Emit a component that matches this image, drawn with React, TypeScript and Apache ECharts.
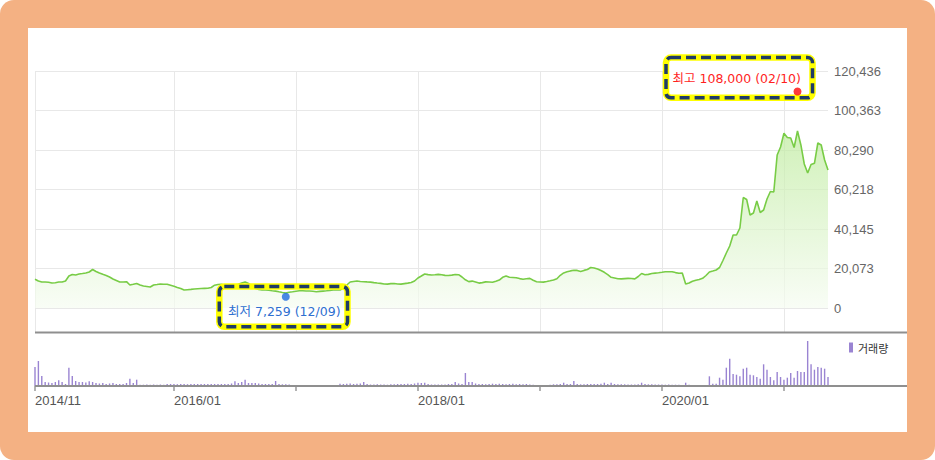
import React, { useEffect, useRef } from "react";
import * as echarts from "echarts";

// ---------- categories (three sample dates per month) ----------
const firstDate = "2014/11/11";
const lastDate = "2021/05/11";
const sampleDays = ["01", "11", "21"];
function buildCategories(): string[] {
  const out: string[] = [];
  for (let y = 2014; y <= 2021; y++) {
    for (let m = 1; m <= 12; m++) {
      const mm = m < 10 ? "0" + m : "" + m;
      for (const d of sampleDays) out.push(`${y}/${mm}/${d}`);
    }
  }
  return out.slice(out.indexOf(firstDate), out.indexOf(lastDate) + 1);
}
const categories = buildCategories();

// ---------- price (close) ----------
const price2014 = [14600, 13700, 13200, 13200, 13060];
const price2015 = [12700, 12860, 13200, 13200, 13720, 16260, 17020, 16770, 17280, 17530, 17790, 18300, 19570, 18550, 17790, 17130, 16520, 15750, 14740, 13980, 13210, 13210, 13370, 11690, 12040, 12450, 11690, 11180, 10930, 10670, 11690, 11940, 12200, 12100, 12040, 11540];
const price2016 = [11030, 10420, 9910, 9150, 9300, 9450, 9660, 9810, 9910, 9960, 10010, 10420, 11590, 11940, 12040, 11690, 11380, 11430, 11690, 12040, 12700, 13210, 12450, 11080, 10060, 9400, 9150, 9150, 9000, 8790, 8590, 8230, 7880, 7620, 8030, 8280];
const price2017 = [8540, 8740, 8740, 8640, 8640, 8490, 8280, 8440, 8590, 8740, 8940, 9150, 9150, 9150, 10160, 11690, 13210, 13470, 13720, 13470, 13370, 13260, 13160, 12910, 12700, 12500, 12200, 12150, 12400, 12450, 12200, 12150, 12400, 12650, 12960, 13720];
const price2018 = [15250, 16260, 17280, 16970, 16770, 16870, 17080, 16920, 16570, 16520, 16720, 17020, 16920, 15750, 14330, 13420, 13670, 13210, 12650, 12910, 13260, 13210, 13060, 13570, 14180, 15600, 16260, 15600, 15500, 15400, 14940, 14640, 14840, 15040, 14080, 13370];
const price2019 = [13210, 13160, 13470, 13820, 14230, 14890, 16620, 17840, 18400, 18850, 19160, 19110, 18600, 19110, 19570, 20580, 20330, 19820, 19060, 18140, 16970, 15600, 15250, 14890, 14790, 14940, 15040, 14990, 14790, 16010, 17530, 16920, 17080, 17530, 17740, 17890];
const price2020 = [18140, 18400, 18450, 18450, 17990, 17630, 17790, 12200, 12700, 13620, 14130, 14480, 15090, 16520, 18300, 18800, 19310, 20580, 24140, 27950, 31510, 37100, 37100, 40660, 56160, 55140, 47260, 48280, 54380, 48530, 49800, 55390, 59210, 58950, 77750, 81820];
const price2021 = [88780, 86650, 86390, 81570, 89950, 82840, 73180, 68610, 72930, 73540, 83850, 82840, 75210, 70130];
const prices = [...price2014, ...price2015, ...price2016, ...price2017, ...price2018, ...price2019, ...price2020, ...price2021];

// ---------- volume ----------
const vol2014 = [190, 250, 100, 40, 35];
const vol2015 = [30, 40, 57, 40, 20, 183, 100, 50, 40, 40, 35, 47, 40, 30, 25, 30, 20, 25, 30, 20, 20, 20, 30, 73, 30, 63, 13, 13, 15, 13, 15, 13, 15, 13, 20, 20];
const vol2016 = [20, 18, 20, 20, 18, 20, 20, 20, 20, 20, 20, 20, 20, 20, 20, 20, 20, 25, 47, 30, 40, 63, 30, 30, 30, 25, 20, 20, 20, 20, 50, 20, 17, 17, 15, 10];
const vol2017 = [10, 10, 10, 7, 10, 7, 10, 7, 10, 7, 0, 5, 5, 23, 20, 23, 25, 20, 23, 25, 40, 20, 15, 15, 17, 15, 15, 13, 17, 17, 20, 20, 20, 23, 20, 25];
const vol2018 = [33, 30, 33, 20, 15, 15, 15, 15, 15, 20, 20, 40, 25, 20, 130, 40, 40, 25, 20, 20, 17, 20, 23, 20, 23, 20, 17, 20, 23, 17, 20, 17, 20, 15, 13, 7];
const vol2019 = [7, 10, 7, 13, 17, 17, 20, 33, 20, 20, 50, 20, 17, 17, 20, 20, 20, 20, 23, 33, 20, 33, 20, 17, 17, 17, 15, 15, 15, 17, 33, 20, 17, 17, 15, 15];
const vol2020 = [15, 13, 15, 13, 13, 13, 10, 33, 13, 10, 10, 10, 10, 10, 97, 23, 23, 83, 63, 183, 273, 120, 113, 97, 173, 183, 113, 107, 90, 73, 217, 163, 90, 57, 140, 90];
const vol2021 = [63, 83, 130, 83, 150, 140, 140, 450, 217, 163, 190, 183, 173, 90];
const volumes = [...vol2014, ...vol2015, ...vol2016, ...vol2017, ...vol2018, ...vol2019, ...vol2020, ...vol2021];

// ---------- axes ----------
const yTickLabels = ["0", "20,073", "40,145", "60,218", "80,290", "100,363", "120,436"];
const yMax = 120436;
const volMax = 530;
const xLabelMap: Record<string, string> = {
  "2014/11/11": "2014/11",
  "2016/01/01": "2016/01",
  "2018/01/01": "2018/01",
  "2020/01/01": "2020/01",
};
const yearLines = ["2014/11/11", "2016/01/01", "2017/01/01", "2018/01/01", "2019/01/01", "2020/01/01", "2021/01/01"];

// ---------- extremes ----------
const highPoint = { date: "2021/02/11", value: 108000, text: "최고 108,000 (02/10)" };
const lowPoint = { date: "2016/12/01", value: 7259, text: "최저 7,259 (12/09)" };

const numFont = '"Liberation Sans", Arial, sans-serif';
const krFont = '"Noto Sans CJK KR", "Noto Sans", sans-serif';
const annFont = '"DejaVu Sans", "Noto Sans CJK KR", sans-serif';

function annotationBox(x: number, y: number, w: number, h: number, text: string, color: string, tx: number, ty: number) {
  return [
    { type: "rect", z: 1, shape: { x, y, width: w, height: h, r: 5 }, style: { fill: "#ffffff", stroke: null } },
    { type: "rect", z: 20, shape: { x, y, width: w, height: h, r: 5 }, style: { fill: null, stroke: "#ffff00", lineWidth: 6.5 } },
    { type: "rect", z: 21, shape: { x, y, width: w, height: h, r: 5 }, style: { fill: null, stroke: "#1f3b66", lineWidth: 3.5, lineDash: [10, 5] } },
    { type: "text", z: 22, x: tx, y: ty, style: { text, fill: color, font: `12.5px ${annFont}`, verticalAlign: "middle" } },
  ];
}

export default function App() {
  const ref = useRef<HTMLDivElement>(null);
  useEffect(() => {
    document.body.style.margin = "0";
    if (!ref.current) return;
    const chart = echarts.init(ref.current, null, { renderer: "svg" });
    const yInterval = yMax / 6;
    const option: any = {
      animation: false,
      grid: [
        { left: 35, right: 107, top: 71, bottom: 152 },
        { left: 35, right: 107, top: 333, bottom: 74 },
        { left: 35, right: 107, top: 71, bottom: 128 },
      ],
      legend: {
        data: ["거래량"],
        left: 849,
        top: 342,
        padding: 0,
        icon: "rect",
        itemWidth: 4,
        itemHeight: 10,
        textStyle: { fontSize: 11, color: "#333", fontFamily: krFont },
      },
      xAxis: [
        {
          type: "category", gridIndex: 0, data: categories, boundaryGap: false,
          axisLine: { show: false }, axisTick: { show: false }, axisLabel: { show: false }, splitLine: { show: false },
        },
        {
          type: "category", gridIndex: 1, data: categories, boundaryGap: false,
          axisLine: { show: false },
          axisTick: { show: true, length: 5, interval: (_i: number, v: string) => yearLines.includes(v), lineStyle: { color: "#999", width: 1.5 } },
          axisLabel: {
            interval: (_i: number, v: string) => v in xLabelMap,
            formatter: (v: string) => xLabelMap[v] ?? "",
            align: "left", margin: 8, color: "#555", fontSize: 13, fontFamily: numFont,
          },
          splitLine: { show: false },
        },
        {
          type: "category", gridIndex: 2, data: categories, boundaryGap: false,
          axisLine: { show: false }, axisTick: { show: false }, axisLabel: { show: false },
          splitLine: { show: true, interval: (_i: number, v: string) => yearLines.includes(v), lineStyle: { color: "#e8e8e8", width: 1 } },
        },
      ],
      yAxis: [
        {
          type: "value", gridIndex: 0, position: "right", min: 0, max: yMax, interval: yInterval,
          axisLine: { show: false }, axisTick: { show: false },
          axisLabel: { margin: 6, color: "#666", fontSize: 13, fontFamily: numFont, formatter: (v: number) => yTickLabels[Math.round(v / yInterval)] ?? "" },
          splitLine: { show: true, lineStyle: { color: "#e8e8e8", width: 1 } },
        },
        { type: "value", gridIndex: 1, min: 0, max: volMax, show: false, splitLine: { show: false } },
        { type: "value", gridIndex: 2, min: 0, max: 1, show: false, splitLine: { show: false } },
      ],
      series: [
        {
          name: "가격", type: "line", xAxisIndex: 0, yAxisIndex: 0, data: prices, symbol: "none", z: 2,
          lineStyle: { color: "#78cc46", width: 1.6 },
          areaStyle: {
            color: new echarts.graphic.LinearGradient(0, 0, 0, 1, [
              { offset: 0, color: "#bdeb9c" },
              { offset: 1, color: "#f6fcf2" },
            ]),
          },
        },
        {
          name: "극값", type: "scatter", xAxisIndex: 0, yAxisIndex: 0, symbolSize: 8, z: 30,
          data: [
            { value: [highPoint.date, highPoint.value], itemStyle: { color: "#ff0a0a" }, symbolOffset: [0, -4] },
            { value: [lowPoint.date, lowPoint.value], itemStyle: { color: "#1e6be0" }, symbolOffset: [0, 3] },
          ],
        },
        {
          name: "거래량", type: "bar", xAxisIndex: 1, yAxisIndex: 1, data: volumes, barWidth: 1.4,
          itemStyle: { color: "#9a84d2" },
        },
      ],
      graphic: [
        { type: "line", z: 5, shape: { x1: 35, y1: 332.5, x2: 907, y2: 332.5 }, style: { stroke: "#8f8f8f", lineWidth: 2 } },
        { type: "line", z: 5, shape: { x1: 35, y1: 386, x2: 907, y2: 386 }, style: { stroke: "#8f8f8f", lineWidth: 2 } },
        ...annotationBox(666, 57.5, 146.5, 40.3, highPoint.text, "#ff1f1f", 672.5, 78),
        ...annotationBox(219.3, 286.5, 128.2, 40.3, lowPoint.text, "#2f6fd0", 228, 311.5),
      ],
    };
    chart.setOption(option);
    return () => chart.dispose();
  }, []);
  return (
    <div style={{ position: "relative", width: 935, height: 460, background: "#F4B183", borderRadius: 14 }}>
      <div style={{ position: "absolute", left: 28, top: 28, width: 879, height: 404, background: "#ffffff" }} />
      <div ref={ref} style={{ position: "absolute", left: 0, top: 0, width: 935, height: 460 }} />
    </div>
  );
}
